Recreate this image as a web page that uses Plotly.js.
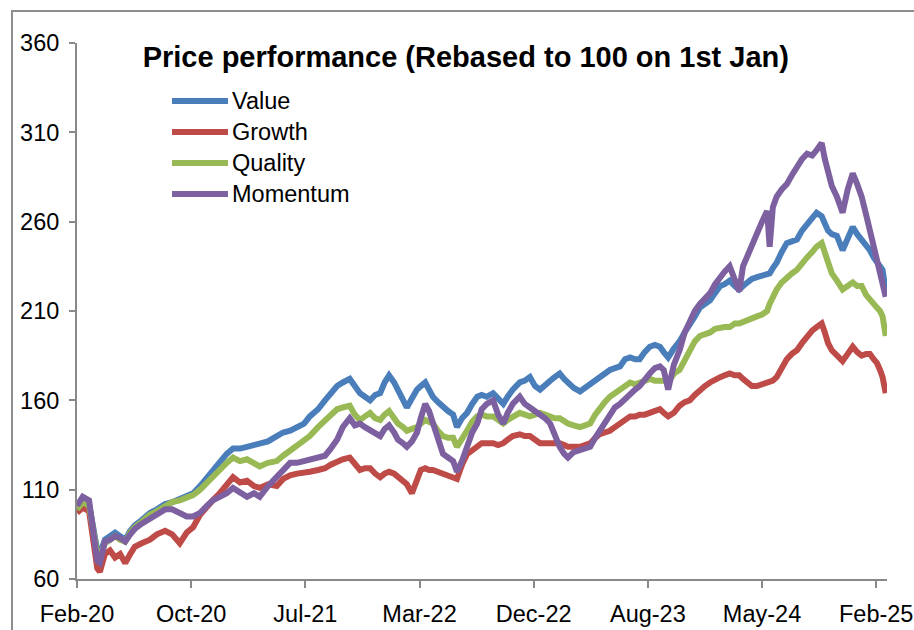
<!DOCTYPE html>
<html>
<head>
<meta charset="utf-8">
<script src="https://cdn.plot.ly/plotly-3.0.1.min.js"></script>
<style>
  html, body { margin:0; padding:0; background:#fff; }
  #wrap { position:relative; width:914px; height:630px; overflow:hidden; }
  #chart { position:absolute; left:0; top:0; width:914px; height:630px; }
  #frame { position:absolute; left:11px; top:10px; width:920px; height:640px;
           border-left:2px solid #8e8e8e; border-top:2px solid #8e8e8e; pointer-events:none; }
</style>
</head>
<body>
<div id="wrap"><div id="chart"></div><div id="frame"></div></div>
<script>
// Trading-day index from the first observation (1 Jan 2020 rebase)
const days = [0,9,19,25,32,36,44,52,60,68,76,84,91,102,115,126,139,150,162,173,183,194,205,214,225,236,246,257,268,279,288,301,315,
  325,336,347,358,367,380,391,400,410,419,430,438,446,454,462,470,478,485,492,500,506,514,520,528,536,542,549,555,561,569,577,585,593,599,
  607,615,623,631,638,646,656,664,672,679,687,698,706,714,722,730,738,746,753,761,768,774,783,793,801,809,817,824,832,840,848,856,864,872,
  880,887,895,903,911,919,925,932,941,950,958,966,974,982,990,998,1006,1014,1021,1029,1037,1044,1050,1056,1064,1072,1080,1088,1092,1097,
  1103,1111,1119,1127,1135,1143,1151,1159,1166,1174,1179,1184,1190,1198,1207,1215,1223,1230,1237,1244,1250,1256,1261,1266,1270,1275];

const valueSeries = [100,105,102,90,76,74,82,84,86,84,82,87,90,93,97,99,102,103,105,107,108,112,117,121,126,130,133,133,134,135,136,137,140,
  142,143,145,147,151,155,160,164,168,170,172,168,164,162,160,163,164,170,174,170,166,160,156,161,166,168,170,166,162,159,156,154,152,145,
  150,153,158,162,163,162,164,161,158,162,166,170,171,173,168,166,169,171,173,175,172,170,167,165,167,170,171,173,175,177,178,179,183,184,
  183,183,187,190,191,190,187,184,189,193,198,202,207,212,214,216,220,224,225,227,224,222,224,226,228,229,230,231,231,234,
  237,243,248,249,250,255,259,262,265,263,259,255,253,252,244,250,257,253,250,247,244,240,237,235,233,221];

const growthSeries = [97,100,98,82,66,64,74,76,72,74,69,74,78,80,82,85,87,85,80,86,89,96,101,104,108,113,117,114,115,112,111,113,112,
  116,118,119,120,120,121,122,124,126,127,128,124,121,122,122,119,117,119,120,119,117,115,113,108,117,121,122,121,121,120,119,118,117,116,
  124,130,132,134,136,136,136,135,136,138,140,141,140,140,138,136,136,136,136,136,135,134,134,134,135,136,139,141,142,143,145,147,149,151,
  151,152,152,153,154,155,153,151,153,157,159,160,163,166,168,170,172,173,174,175,174,174,172,170,168,168,169,170,170,171,
  173,178,183,186,188,192,196,199,201,203,198,192,188,185,182,186,190,187,185,186,186,183,181,177,173,164];

const qualitySeries = [99,103,101,88,74,72,80,82,84,82,81,86,89,92,96,98,101,103,104,106,107,110,114,118,122,125,128,126,127,125,123,125,126,
  129,132,135,137,140,145,149,152,155,156,157,152,149,151,153,150,149,152,154,150,147,145,143,144,145,147,149,148,147,143,140,139,139,134,
  138,143,148,151,152,151,151,149,147,149,151,153,152,151,152,153,152,151,150,150,148,147,146,145,146,147,152,156,159,162,164,166,168,170,
  169,170,171,172,171,171,171,170,175,177,182,188,193,196,197,198,200,201,201,201,203,203,204,205,206,207,208,210,214,218,
  222,226,229,231,233,237,240,243,246,248,243,237,231,227,222,224,226,224,224,219,216,214,212,210,207,196];

const momentumSeries = [101,106,104,86,70,69,81,82,84,83,81,85,88,91,94,96,99,99,97,95,95,97,101,104,106,108,111,108,106,108,106,112,117,
  120,125,125,126,127,128,129,133,138,145,150,146,147,145,143,141,140,144,146,142,138,136,134,137,142,150,158,154,147,138,130,128,126,120,
  126,134,142,147,155,158,160,152,147,153,158,162,158,156,154,153,150,147,140,134,130,128,131,132,133,134,139,143,148,153,156,158,161,164,
  166,168,172,175,178,179,177,166,180,188,198,205,210,214,217,220,225,229,232,235,228,221,235,240,248,255,260,266,246,268,
  274,278,281,286,291,295,298,297,300,304,295,287,280,274,265,278,287,281,274,264,255,246,240,233,226,218];

const seriesNames = ['Value','Growth','Quality','Momentum'];
const seriesColors = ['#4a7ebb','#be4b48','#98b954','#7d60a0'];
const tickDays = [0,180,360,540,720,900,1080,1260];
const tickLabels = ['Feb-20','Oct-20','Jul-21','Mar-22','Dec-22','Aug-23','May-24','Feb-25'];
const yTicks = [60,110,160,210,260,310,360];

const allSeries = [valueSeries, growthSeries, qualitySeries, momentumSeries];
const traces = allSeries.map((ys, i) => ({
  type:'scatter', mode:'lines', x:days, y:ys, name:seriesNames[i],
  line:{color:seriesColors[i], width:6, shape:'linear'}
}));

const FONT = '"Liberation Sans", Arial, sans-serif';
const axisGray = '#898989';

// Legend drawn as line samples + labels (paper coordinates)
const legX0 = 0.1173, legX1 = 0.1864, legTextX = 0.1890;
const legY0 = 0.8918, legStep = 0.0578;
const shapes = seriesNames.map((n, i) => ({
  type:'line', xref:'paper', yref:'paper', x0:legX0, x1:legX1,
  y0:legY0 - i*legStep, y1:legY0 - i*legStep,
  line:{color:seriesColors[i], width:6}
}));
const annotations = seriesNames.map((n, i) => ({
  xref:'paper', yref:'paper', x:legTextX, y:legY0 - i*legStep, text:n,
  showarrow:false, xanchor:'left', yanchor:'middle',
  font:{family:FONT, size:23.5, color:'#000'}
}));

const layout = {
  width:914, height:630,
  margin:{l:77, r:27, t:43, b:51, pad:0},
  paper_bgcolor:'#ffffff', plot_bgcolor:'#ffffff',
  font:{family:FONT, size:23.5, color:'#000'},
  title:{text:'<b>Price performance (Rebased to 100 on 1st Jan)</b>',
    font:{family:FONT, size:29, color:'#000'},
    xref:'paper', x:0.48, xanchor:'center', yref:'container', y:1-57/630, yanchor:'middle'},
  showlegend:false,
  shapes:shapes,
  annotations:annotations,
  xaxis:{range:[0,1277], tickmode:'array', tickvals:tickDays, ticktext:tickLabels,
    showline:true, linecolor:axisGray, linewidth:2, ticks:'outside', ticklen:7, tickwidth:2,
    tickcolor:axisGray, showgrid:false, zeroline:false, ticklabelstandoff:6,
    tickfont:{family:FONT, size:23.5, color:'#000'}},
  yaxis:{range:[60,360], tickmode:'array', tickvals:yTicks,
    showline:true, linecolor:axisGray, linewidth:2, ticks:'outside', ticklen:6, tickwidth:2,
    tickcolor:axisGray, showgrid:false, zeroline:false, ticklabelstandoff:5,
    tickfont:{family:FONT, size:23.5, color:'#000'}}
};
Plotly.newPlot('chart', traces, layout, {staticPlot:true, displayModeBar:false});
</script>
</body>
</html>
